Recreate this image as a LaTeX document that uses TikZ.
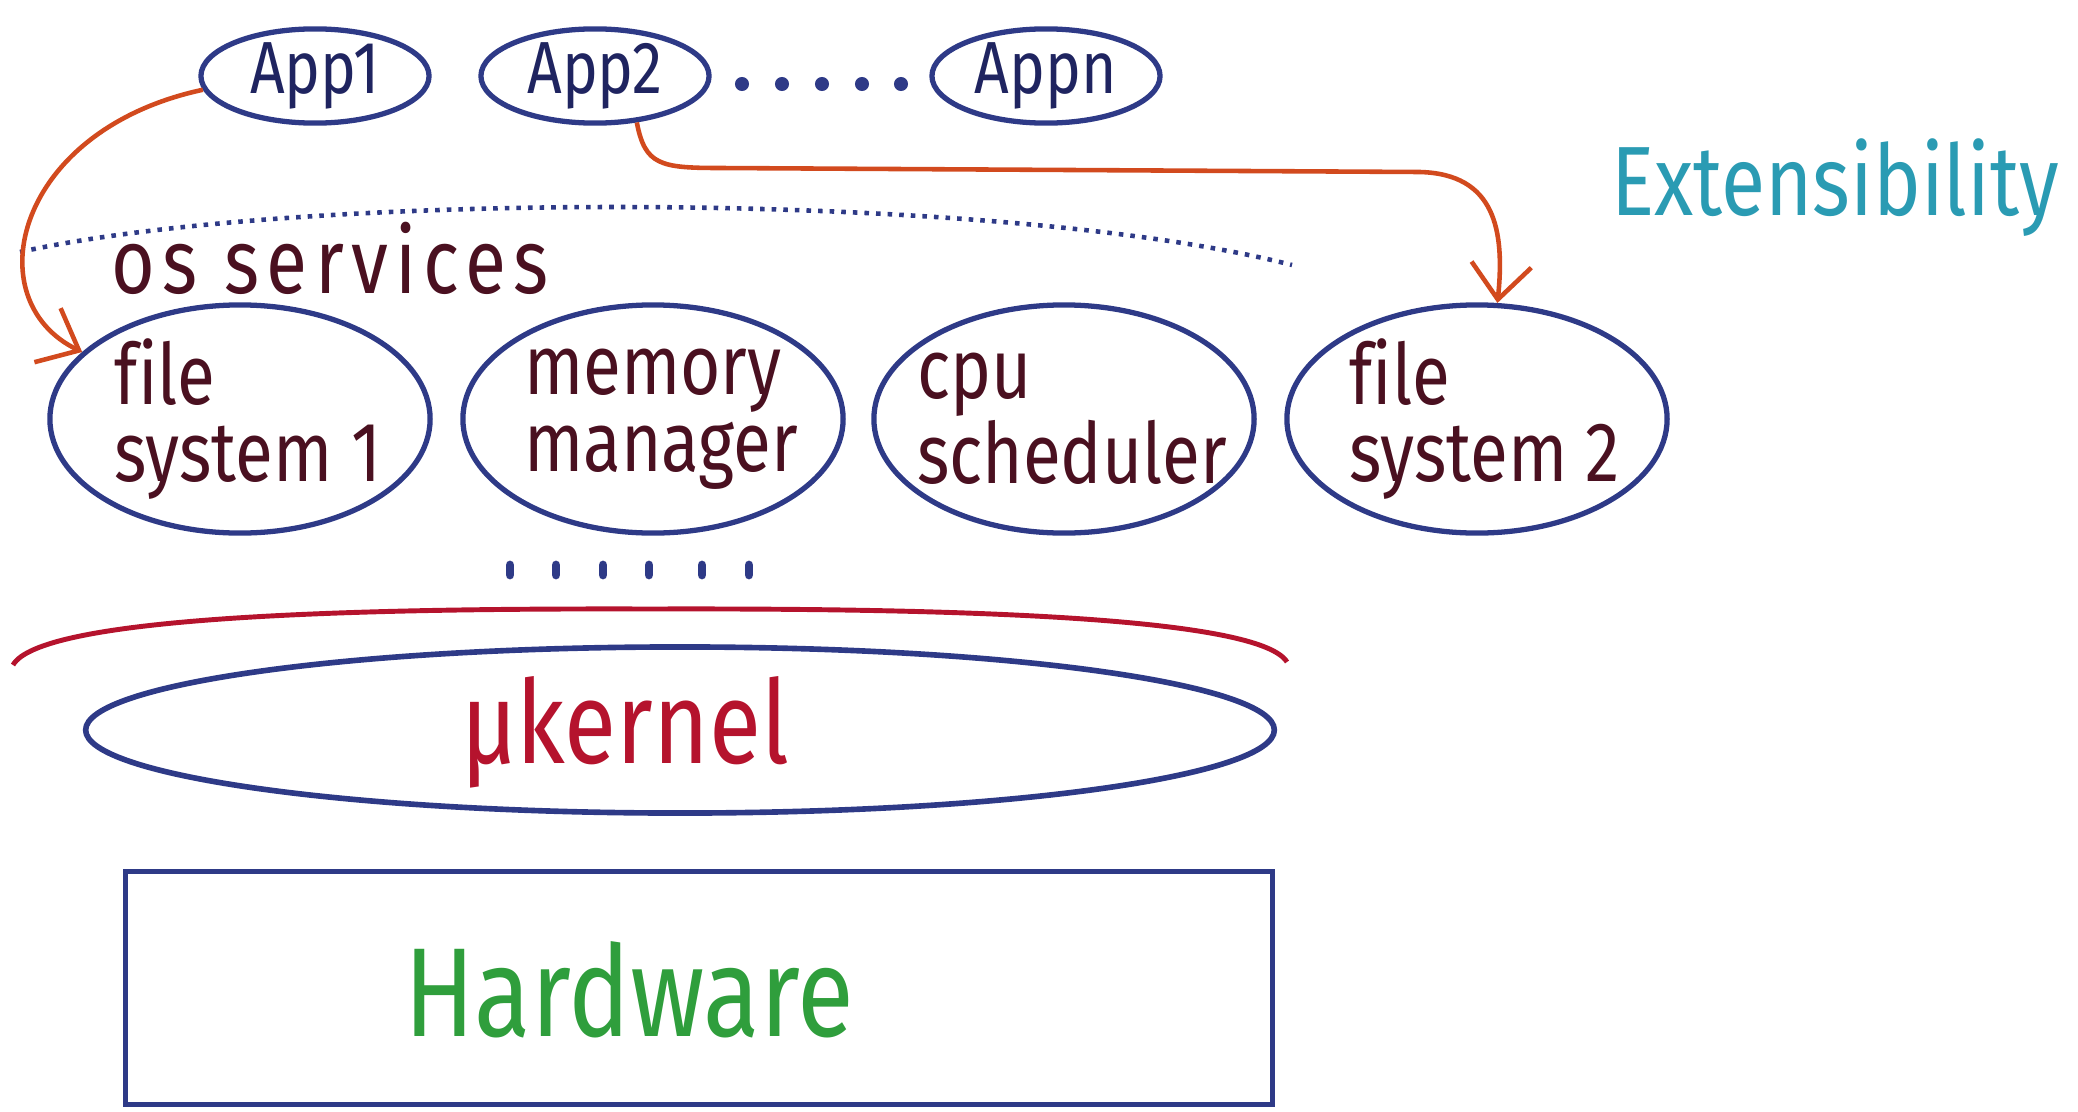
\documentclass[tikz,border=0pt]{standalone}
\usepackage{fontspec}
\setmainfont[FakeStretch=0.82, Ligatures=NoCommon]{Fira Sans}
\usetikzlibrary{shapes.geometric,arrows.meta}
\definecolor{navy}{HTML}{2E3A87}
\definecolor{appink}{HTML}{1F2460}
\definecolor{maroon}{HTML}{4A1020}
\definecolor{arrowred}{HTML}{D24A1E}
\definecolor{kernred}{HTML}{B5132D}
\definecolor{teal}{HTML}{2A9BB3}
\definecolor{hwgreen}{HTML}{2F9E3C}
\begin{document}
\begin{tikzpicture}[x=0.01cm, y=-0.01cm,
  app/.style={ellipse, draw=navy, line width=1.5pt, minimum width=2.28cm,
    minimum height=0.94cm, inner sep=0pt, text=appink,
    font=\fontsize{21}{22}\selectfont},
  svc/.style={ellipse, draw=navy, line width=1.5pt, minimum width=3.8cm,
    minimum height=2.28cm, inner sep=0pt,
    label={[align=left, text=maroon, font=\fontsize{24}{22}\selectfont, xshift=0.08cm]center:#1}},
  flow/.style={draw=arrowred, line width=1.3pt,
    -{Straight Barb[length=3.5mm,width=6mm]}},
  dotmark/.style={navy, line width=2.5pt, line cap=round}]
\useasboundingbox (0,0) rectangle (2078,1112);

% applications
\node[app] (app1) at (315,76) {App1};
\node[app] (app2) at (595,76) {App2};
\node[app] (appn) at (1046,76) {Appn};
\foreach \x in {742,782,822,862,901}
  \fill[navy] (\x,84) circle (2pt);

% OS services boundary
\draw[navy, line width=1.3pt, dotted] (20,252) .. controls (300,190) and (1000,190) .. (1292,265);
\node[text=maroon, font=\fontsize{26}{30}\selectfont\addfontfeature{LetterSpace=8}] (ostext) at (330,258) {os services};

% services
\node[svc={file\\system 1}] (fs1) at (240,419) {};
\node[svc={memory\\manager}] (mem) at (653,419) {};
\node[svc={cpu\\scheduler}] (cpu) at (1064,419) {};
\node[svc={file\\system 2}] (fs2) at (1477,419) {};
\foreach \x in {510,556,603,649,702,749}
  \draw[dotmark] (\x,565) -- (\x,575);

\node[text=teal, font=\fontsize{28}{30}\selectfont] (ext) at (1835,188) {Extensibility};

% kernel boundary and microkernel
\draw[kernred, line width=1.4pt] (13,665) .. controls (40,618) and (330,608) .. (650,609)
  .. controls (970,608) and (1260,618) .. (1287,662);
\node[ellipse, draw=navy, line width=1.6pt, minimum width=11.88cm, minimum height=1.66cm,
  inner sep=0pt] (mk) at (680,730) {};
\node[text=kernred, font=\fontsize{33}{34}\selectfont] (mktext) at (625,732) {µkernel};

% hardware
\node[draw=navy, line width=1.6pt, minimum width=11.46cm, minimum height=2.33cm,
  inner sep=0pt] (hw) at (699,988) {};
\node[text=hwgreen, font=\fontsize{36}{38}\selectfont] (hwtext) at (629,990) {Hardware};

% extensions plugged in by applications
\draw[flow] (app1.187) .. controls (15,130) and (-25,300) .. (fs1.157);
\draw[flow] (app2.-48) .. controls (645,165) and (660,168) .. (720,168)
  -- (1420,172) .. controls (1495,174) and (1505,230) .. (fs2.80);
\end{tikzpicture}
\end{document}
